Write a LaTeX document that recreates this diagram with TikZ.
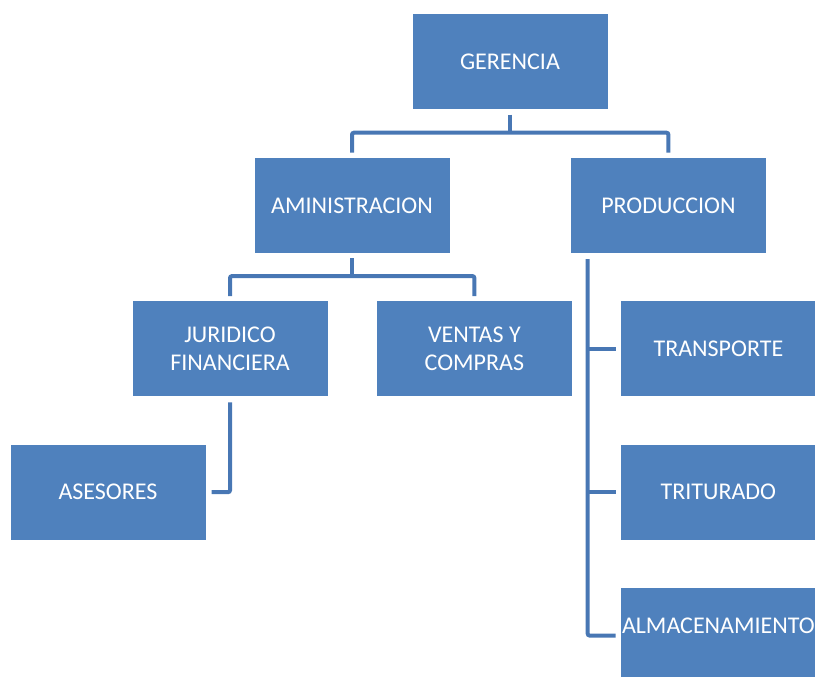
\documentclass[tikz,border=0pt]{standalone}
\usepackage{fontspec}
\setmainfont{Carlito}
\usepackage{tikz}
\usetikzlibrary{positioning}
\usepackage{xcolor}
\definecolor{boxblue}{HTML}{4F81BD}
\definecolor{lineblue}{HTML}{4877B4}

\begin{document}
\begin{tikzpicture}[font=\fontsize{24}{28}\selectfont,
        box/.style={rectangle, fill=boxblue, text=white, minimum width=195pt,
            minimum height=95pt, inner sep=0pt, align=center},
        link/.style={draw=lineblue, line width=4pt, rounded corners=2pt},
        node distance=48pt]
        \useasboundingbox (0pt,0pt) rectangle (815pt,677pt);
        \node[box] (ger) at (510pt,615pt) {GERENCIA};
        \node[box] [below = of ger, xshift=-158pt] (adm) {AMINISTRACION};
        \node[box] [right = 121pt of adm] (prod) {PRODUCCION};
        \node[box] [below = of adm, xshift=-122pt] (jur) {JURIDICO\\FINANCIERA};
        \node[box] [right = 49pt of jur] (ven) {VENTAS Y\\COMPRAS};
        \node[box] [below = of jur, xshift=-122pt] (ase) {ASESORES};
        \node[box] [below = of prod, xshift=50pt] (tra) {TRANSPORTE};
        \node[box] [below = of tra] (tri) {TRITURADO};
        \node[box, text depth=19pt] [below = of tri] (alm) {ALMACENAMIENTO};
	\draw[link] ([yshift=-5pt]ger.south) -- ++(0,-18pt) coordinate (g1);
	\draw[link] ([yshift=5pt]adm.north) |- (g1) -| ([yshift=5pt]prod.north);
	\draw[link] ([yshift=-5pt]adm.south) -- ++(0,-18pt) coordinate (a1);
	\draw[link] ([yshift=5pt]jur.north) |- (a1) -| ([yshift=5pt]ven.north);
	\draw[link] ([yshift=-6pt]jur.south) |- ([xshift=6pt]ase.east);
	\coordinate (p0) at ([xshift=17pt,yshift=-6pt]prod.south west);
	\draw[link] (p0) |- ([xshift=-5pt]alm.west);
	\draw[link] (p0 |- tra.west) -- ([xshift=-5pt]tra.west);
	\draw[link] (p0 |- tri.west) -- ([xshift=-5pt]tri.west);
\end{tikzpicture}
\end{document}
